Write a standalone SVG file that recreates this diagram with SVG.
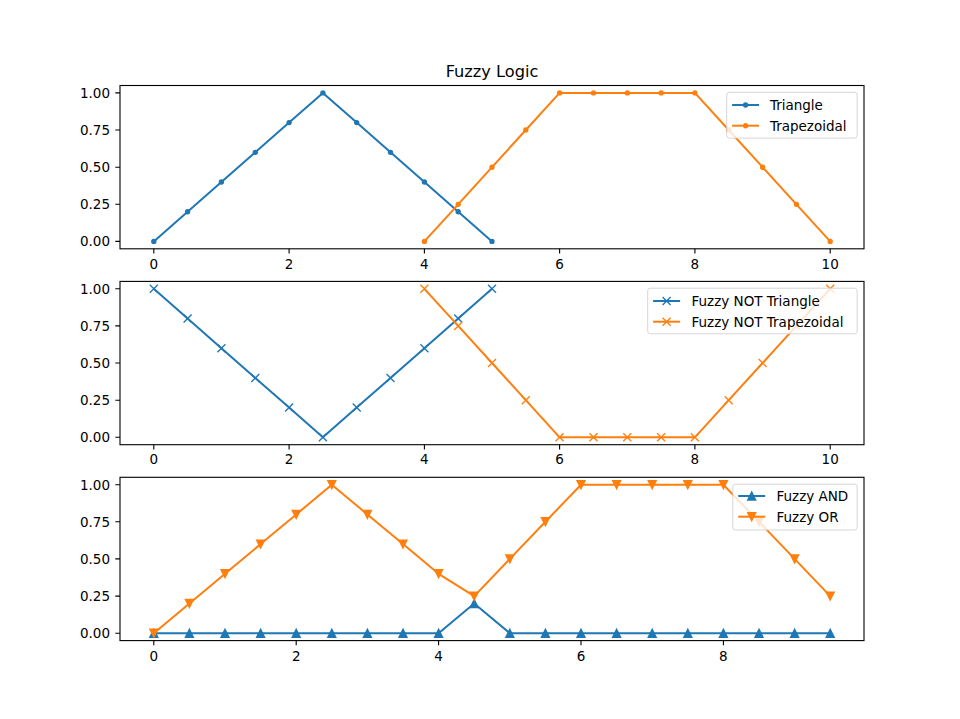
<svg xmlns="http://www.w3.org/2000/svg" xmlns:xlink="http://www.w3.org/1999/xlink" width="960" height="719" viewBox="0 0 960 719">
<style>
text{font-family:"DejaVu Sans","Liberation Sans",sans-serif;fill:#000}
.tick{font-size:13.5px}
.ytl{text-anchor:end}
.xtl{text-anchor:middle}
.leg{font-size:13.5px}
.title{font-size:16.2px;text-anchor:middle}
.frame{fill:none;stroke:#000;stroke-width:1.1}
.tk{stroke:#000;stroke-width:1.1}
.lb{fill:none;stroke:#1f77b4;stroke-width:2;stroke-linejoin:round}
.lo{fill:none;stroke:#ff7f0e;stroke-width:2;stroke-linejoin:round}
.legbox{fill:#fff;fill-opacity:0.8;stroke:#cccccc;stroke-opacity:0.8;stroke-width:1}
.dotB{marker-start:url(#mDotB);marker-mid:url(#mDotB);marker-end:url(#mDotB)}
.dotO{marker-start:url(#mDotO);marker-mid:url(#mDotO);marker-end:url(#mDotO)}
.xB{marker-start:url(#mXB);marker-mid:url(#mXB);marker-end:url(#mXB)}
.xO{marker-start:url(#mXO);marker-mid:url(#mXO);marker-end:url(#mXO)}
.upB{marker-start:url(#mUpB);marker-mid:url(#mUpB);marker-end:url(#mUpB)}
.dnO{marker-start:url(#mDnO);marker-mid:url(#mDnO);marker-end:url(#mDnO)}
</style>
<defs>
<marker id="mDotB" markerUnits="userSpaceOnUse" viewBox="-6 -6 12 12" markerWidth="12" markerHeight="12" refX="0" refY="0" overflow="visible"><circle r="2" fill="#1f77b4" stroke="#1f77b4" stroke-width="1.35"/></marker>
<marker id="mDotO" markerUnits="userSpaceOnUse" viewBox="-6 -6 12 12" markerWidth="12" markerHeight="12" refX="0" refY="0" overflow="visible"><circle r="2" fill="#ff7f0e" stroke="#ff7f0e" stroke-width="1.35"/></marker>
<marker id="mXB" markerUnits="userSpaceOnUse" viewBox="-6 -6 12 12" markerWidth="12" markerHeight="12" refX="0" refY="0" overflow="visible"><path d="M-4,-4L4,4M-4,4L4,-4" stroke="#1f77b4" stroke-width="1.35" fill="none"/></marker>
<marker id="mXO" markerUnits="userSpaceOnUse" viewBox="-6 -6 12 12" markerWidth="12" markerHeight="12" refX="0" refY="0" overflow="visible"><path d="M-4,-4L4,4M-4,4L4,-4" stroke="#ff7f0e" stroke-width="1.35" fill="none"/></marker>
<marker id="mUpB" markerUnits="userSpaceOnUse" viewBox="-6 -6 12 12" markerWidth="12" markerHeight="12" refX="0" refY="0" overflow="visible"><path d="M0,-4L-4,4L4,4Z" fill="#1f77b4" stroke="#1f77b4" stroke-width="1.35" stroke-linejoin="miter"/></marker>
<marker id="mDnO" markerUnits="userSpaceOnUse" viewBox="-6 -6 12 12" markerWidth="12" markerHeight="12" refX="0" refY="0" overflow="visible"><path d="M0,4L-4,-4L4,-4Z" fill="#ff7f0e" stroke="#ff7f0e" stroke-width="1.35" stroke-linejoin="miter"/></marker>
</defs>
<rect width="960" height="719" fill="#fff"/>

<text class="title" x="492" y="77.4">Fuzzy Logic</text>

<!-- Axes 1 -->
<g id="axes1">
<g id="axes1-lines">
<polyline class="lb dotB" points="153.8,241.4 187.6,211.7 221.4,182.0 255.3,152.3 289.1,122.6 322.9,92.9 356.7,122.6 390.5,152.3 424.4,182.0 458.2,211.7 492.0,241.4"/>
<polyline class="lo dotO" points="424.4,241.4 458.2,204.3 492.0,167.2 525.8,130.0 559.6,92.9 593.5,92.9 627.3,92.9 661.1,92.9 694.9,92.9 728.7,130.0 762.6,167.2 796.4,204.3 830.2,241.4"/>
</g>
<rect class="frame" x="120" y="85.5" width="744" height="163.3"/>
<g id="axes1-ticks">
<path class="tk" d="M153.8,248.8v4.7M289.1,248.8v4.7M424.4,248.8v4.7M559.6,248.8v4.7M694.9,248.8v4.7M830.2,248.8v4.7M120,241.4h-4.7M120,204.3h-4.7M120,167.2h-4.7M120,130.0h-4.7M120,92.9h-4.7"/>
<text class="tick xtl" x="153.8" y="268.5">0</text>
<text class="tick xtl" x="289.1" y="268.5">2</text>
<text class="tick xtl" x="424.4" y="268.5">4</text>
<text class="tick xtl" x="559.6" y="268.5">6</text>
<text class="tick xtl" x="694.9" y="268.5">8</text>
<text class="tick xtl" x="830.2" y="268.5">10</text>
<text class="tick ytl" x="110" y="246.4">0.00</text>
<text class="tick ytl" x="110" y="209.3">0.25</text>
<text class="tick ytl" x="110" y="172.2">0.50</text>
<text class="tick ytl" x="110" y="135.0">0.75</text>
<text class="tick ytl" x="110" y="97.9">1.00</text>
</g>
<g id="legend1">
<rect class="legbox" x="726.7" y="92.3" width="130.5" height="45.8" rx="2.7"/>
<polyline class="lb" style="marker-mid:url(#mDotB)" points="732.1,105 745.6,105 759.1,105"/>
<polyline class="lo" style="marker-mid:url(#mDotO)" points="732.1,125.7 745.6,125.7 759.1,125.7"/>
<text class="leg" x="769.9" y="110">Triangle</text>
<text class="leg" x="769.9" y="130.7">Trapezoidal</text>
</g>
</g>

<!-- Axes 2 -->
<g id="axes2">
<g id="axes2-lines">
<polyline class="lb xB" points="153.8,288.8 187.6,318.5 221.4,348.2 255.3,377.9 289.1,407.6 322.9,437.3 356.7,407.6 390.5,377.9 424.4,348.2 458.2,318.5 492.0,288.8"/>
<polyline class="lo xO" points="424.4,288.8 458.2,325.9 492.0,363.0 525.8,400.2 559.6,437.3 593.5,437.3 627.3,437.3 661.1,437.3 694.9,437.3 728.7,400.2 762.6,363.0 796.4,325.9 830.2,288.8"/>
</g>
<rect class="frame" x="120" y="281.4" width="744" height="163.3"/>
<g id="axes2-ticks">
<path class="tk" d="M153.8,444.7v4.7M289.1,444.7v4.7M424.4,444.7v4.7M559.6,444.7v4.7M694.9,444.7v4.7M830.2,444.7v4.7M120,437.3h-4.7M120,400.2h-4.7M120,363.0h-4.7M120,325.9h-4.7M120,288.8h-4.7"/>
<text class="tick xtl" x="153.8" y="464.4">0</text>
<text class="tick xtl" x="289.1" y="464.4">2</text>
<text class="tick xtl" x="424.4" y="464.4">4</text>
<text class="tick xtl" x="559.6" y="464.4">6</text>
<text class="tick xtl" x="694.9" y="464.4">8</text>
<text class="tick xtl" x="830.2" y="464.4">10</text>
<text class="tick ytl" x="110" y="442.3">0.00</text>
<text class="tick ytl" x="110" y="405.2">0.25</text>
<text class="tick ytl" x="110" y="368.0">0.50</text>
<text class="tick ytl" x="110" y="330.9">0.75</text>
<text class="tick ytl" x="110" y="293.8">1.00</text>
</g>
<g id="legend2">
<rect class="legbox" x="647.7" y="288.2" width="209.5" height="45.6" rx="2.7"/>
<polyline class="lb" style="marker-mid:url(#mXB)" points="653.1,301 666.6,301 680.1,301"/>
<polyline class="lo" style="marker-mid:url(#mXO)" points="653.1,321.7 666.6,321.7 680.1,321.7"/>
<text class="leg" x="691.5" y="306">Fuzzy NOT Triangle</text>
<text class="leg" x="691.5" y="326.7">Fuzzy NOT Trapezoidal</text>
</g>
</g>

<!-- Axes 3 -->
<g id="axes3">
<g id="axes3-lines">
<polyline class="lb upB" points="153.8,633.2 189.4,633.2 225.0,633.2 260.6,633.2 296.2,633.2 331.8,633.2 367.4,633.2 403.0,633.2 438.6,633.2 474.2,603.5 509.8,633.2 545.4,633.2 581.0,633.2 616.6,633.2 652.2,633.2 687.8,633.2 723.4,633.2 759.0,633.2 794.6,633.2 830.2,633.2"/>
<polyline class="lo dnO" points="153.8,633.2 189.4,603.5 225.0,573.8 260.6,544.1 296.2,514.4 331.8,484.7 367.4,514.4 403.0,544.1 438.6,573.8 474.2,596.1 509.8,558.9 545.4,521.8 581.0,484.7 616.6,484.7 652.2,484.7 687.8,484.7 723.4,484.7 759.0,521.8 794.6,558.9 830.2,596.1"/>
</g>
<rect class="frame" x="120" y="477.3" width="744" height="163.3"/>
<g id="axes3-ticks">
<path class="tk" d="M153.8,640.6v4.7M296.2,640.6v4.7M438.6,640.6v4.7M581.0,640.6v4.7M723.4,640.6v4.7M120,633.2h-4.7M120,596.1h-4.7M120,558.9h-4.7M120,521.8h-4.7M120,484.7h-4.7"/>
<text class="tick xtl" x="153.8" y="660.6">0</text>
<text class="tick xtl" x="296.2" y="660.6">2</text>
<text class="tick xtl" x="438.6" y="660.6">4</text>
<text class="tick xtl" x="581.0" y="660.6">6</text>
<text class="tick xtl" x="723.4" y="660.6">8</text>
<text class="tick ytl" x="110" y="638.2">0.00</text>
<text class="tick ytl" x="110" y="601.1">0.25</text>
<text class="tick ytl" x="110" y="563.9">0.50</text>
<text class="tick ytl" x="110" y="526.8">0.75</text>
<text class="tick ytl" x="110" y="489.7">1.00</text>
</g>
<g id="legend3">
<rect class="legbox" x="732.8" y="484.2" width="124.4" height="45.8" rx="2.7"/>
<polyline class="lb" style="marker-mid:url(#mUpB)" points="738.2,496 751.7,496 765.2,496"/>
<polyline class="lo" style="marker-mid:url(#mDnO)" points="738.2,516.7 751.7,516.7 765.2,516.7"/>
<text class="leg" x="776.5" y="501">Fuzzy AND</text>
<text class="leg" x="776.5" y="521.7">Fuzzy OR</text>
</g>
</g>
</svg>
